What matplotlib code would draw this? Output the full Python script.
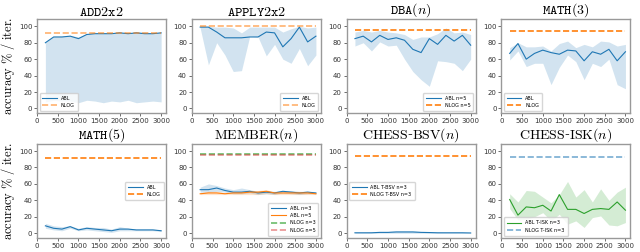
import numpy as np
import matplotlib
matplotlib.use("Agg")
import matplotlib.pyplot as plt

plt.rcParams["mathtext.fontset"] = "cm"
plt.rcParams["font.family"] = ["DejaVu Sans"]

iters = [200, 400, 600, 800, 1000, 1200, 1400, 1600, 1800, 2000, 2200, 2400, 2600, 2800, 3000]

# ADD2x2
add_mean = [80, 87, 87, 88, 85, 90, 91, 91, 91, 92, 91, 92, 91, 91, 92]
add_low = [8, 10, 9, 9, 7, 10, 9, 7, 9, 8, 10, 7, 8, 9, 8]
add_high = [81, 88, 88, 89, 87, 91, 92, 92, 92, 93, 92, 93, 93, 92, 93]
add_nlog = 92

# APPLY2x2
app_mean = [99, 99, 93, 86, 86, 86, 87, 87, 93, 92, 75, 85, 99, 81, 88]
app_low = [98, 53, 80, 65, 45, 46, 88, 87, 64, 78, 60, 55, 73, 52, 65]
app_high = [100, 100, 99, 99, 98, 92, 99, 99, 99, 99, 93, 97, 100, 98, 99]
app_nlog = 100

# DBA(n)
dba_mean = [85, 88, 81, 89, 84, 86, 83, 72, 68, 85, 78, 89, 82, 89, 77]
dba_low = [76, 80, 70, 81, 76, 77, 60, 45, 35, 27, 58, 57, 55, 46, 60]
dba_high = [93, 95, 93, 95, 93, 92, 90, 84, 87, 87, 91, 98, 92, 93, 90]
dba_nlog = 95

# MATH(3)
m3_mean = [67, 79, 60, 67, 71, 68, 66, 71, 70, 58, 69, 66, 72, 58, 69]
m3_low = [59, 70, 51, 55, 55, 29, 50, 65, 57, 35, 55, 51, 60, 29, 24]
m3_high = [74, 80, 75, 75, 76, 70, 79, 82, 74, 78, 75, 82, 81, 76, 78]
m3_nlog = 94

# MATH(5)
m5_mean = [9, 6, 5, 8, 4, 6, 5, 4, 3, 5, 5, 4, 4, 4, 3]
m5_low = [6, 4, 3, 6, 3, 4, 3, 2, 1, 3, 3, 3, 3, 3, 2]
m5_high = [12, 9, 8, 9, 6, 8, 7, 7, 5, 8, 6, 5, 5, 5, 4]
m5_nlog = 92

# MEMBER(n)
mem3_mean = [53, 53, 55, 52, 50, 50, 51, 49, 50, 49, 51, 50, 49, 50, 49]
mem3_low = [50, 50, 51, 50, 48, 48, 49, 47, 48, 47, 49, 48, 47, 48, 48]
mem3_high = [56, 60, 58, 55, 53, 55, 53, 51, 52, 51, 52, 52, 51, 51, 50]
mem5_mean = [48, 49, 49, 48, 49, 49, 50, 50, 51, 49, 49, 49, 49, 49, 48]
mem5_low = [47, 47, 47, 47, 47, 47, 47, 47, 48, 47, 47, 47, 47, 47, 47]
mem5_high = [49, 51, 51, 49, 50, 51, 51, 52, 53, 50, 50, 50, 50, 50, 49]
mem3_nlog = 96
mem5_nlog = 95

# CHESS-BSV(n)
bsv_mean = [0.5, 0.5, 0.5, 1, 1, 1.5, 1.5, 1.5, 1, 0.8, 0.5, 0.5, 0.5, 0.5, 0.3]
bsv_low = [0, 0, 0, 0, 0, 0, 0, 0, 0, 0, 0, 0, 0, 0, 0]
bsv_high = [1, 1, 1.5, 2, 2, 3, 3, 3, 2, 2, 1.5, 1, 1, 1, 0.5]
bsv_nlog = 94

# CHESS-ISK(n)
isk_mean = [41, 22, 32, 31, 34, 27, 47, 29, 29, 24, 29, 30, 29, 38, 28]
isk_low = [30, 16, 17, 20, 25, 15, 23, 11, 15, 7, 19, 21, 10, 9, 13]
isk_high = [48, 38, 52, 51, 44, 37, 47, 63, 44, 53, 38, 54, 40, 50, 56]
isk_nlog = 93

fig, axes = plt.subplots(2, 4, figsize=(6.4, 2.52), dpi=100)
plt.subplots_adjust(left=0.058, right=0.985, top=0.925, bottom=0.055,
                    wspace=0.2, hspace=0.32)


def band(ax, mean, low, high, color, label):
    ax.plot(iters, mean, color=color, lw=0.8, label=label)
    ax.fill_between(iters, low, high, color=color, alpha=0.2, lw=0)


def nlog(ax, value, color, label, alpha=1.0):
    ax.plot(iters, [value] * len(iters), color=color, ls="--", lw=1.2,
            label=label, alpha=alpha)


panels = [
    (r"$\mathtt{ADD2x2}$", "lower left"),
    (r"$\mathtt{APPLY2x2}$", "lower right"),
    (r"$\mathtt{DBA}(n)$", "lower right"),
    (r"$\mathtt{MATH}(3)$", "lower left"),
    (r"$\mathtt{MATH}(5)$", "center right"),
    (r"$\mathrm{MEMBER}(n)$", "lower right"),
    (r"$\mathrm{CHESS}$-$\mathrm{BSV}(n)$", "center left"),
    (r"$\mathrm{CHESS}$-$\mathrm{ISK}(n)$", "lower left"),
]

ax = axes.flat
band(ax[0], add_mean, add_low, add_high, "C0", "ABL")
nlog(ax[0], add_nlog, "C1", "NLOG", alpha=0.6)
band(ax[1], app_mean, app_low, app_high, "C0", "ABL")
nlog(ax[1], app_nlog, "C1", "NLOG", alpha=0.6)
band(ax[2], dba_mean, dba_low, dba_high, "C0", "ABL n=5")
nlog(ax[2], dba_nlog, "C1", "NLOG n=5")
band(ax[3], m3_mean, m3_low, m3_high, "C0", "ABL")
nlog(ax[3], m3_nlog, "C1", "NLOG")
band(ax[4], m5_mean, m5_low, m5_high, "C0", "ABL")
nlog(ax[4], m5_nlog, "C1", "NLOG")
band(ax[5], mem3_mean, mem3_low, mem3_high, "C0", "ABL n=3")
band(ax[5], mem5_mean, mem5_low, mem5_high, "C1", "ABL n=5")
nlog(ax[5], mem3_nlog, "C2", "NLOG n=3", alpha=0.7)
nlog(ax[5], mem5_nlog, "C3", "NLOG n=5", alpha=0.5)
band(ax[6], bsv_mean, bsv_low, bsv_high, "C0", "ABL T-BSV n=3")
nlog(ax[6], bsv_nlog, "C1", "NLOG T-BSV n=3")
band(ax[7], isk_mean, isk_low, isk_high, "C2", "ABL T-ISK n=3")
nlog(ax[7], isk_nlog, "C0", "NLOG T-ISK n=3", alpha=0.6)

for a, (title, loc) in zip(ax, panels):
    a.set_title(title, fontsize=10, family="DejaVu Serif", pad=2)
    a.set_xlim(0, 3120)
    a.set_ylim(-6, 109)
    a.set_xticks([0, 500, 1000, 1500, 2000, 2500, 3000])
    a.set_yticks([0, 20, 40, 60, 80, 100])
    a.tick_params(labelsize=5, length=2, width=0.5, pad=1.5, colors="#333333")
    for s in a.spines.values():
        s.set_color("#999999")
        s.set_linewidth(1.0)
    a.legend(loc=loc, fontsize=3.5, handlelength=3, frameon=True,
             borderpad=0.6, labelspacing=0.5)

for a in axes[:, 0]:
    a.set_ylabel(r"$\mathrm{accuracy\ \%\ /\ iter.}$", fontsize=9, labelpad=1)

plt.savefig("out.png", dpi=100)
